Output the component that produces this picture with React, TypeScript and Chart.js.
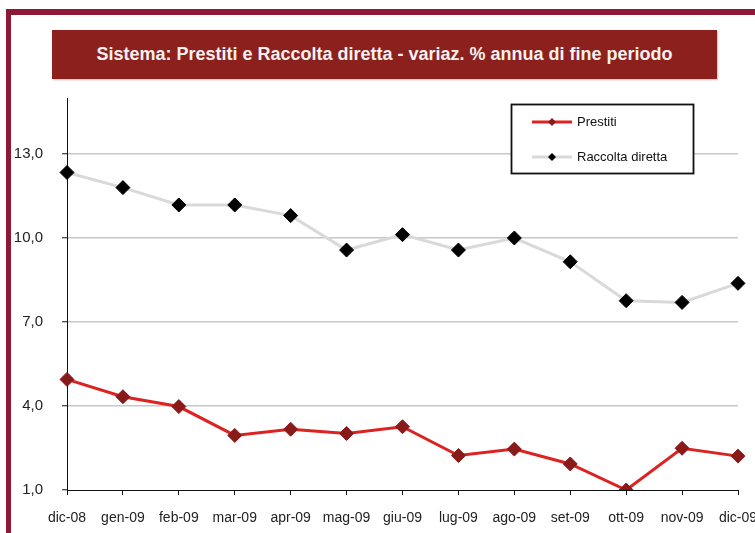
import React, { useEffect, useRef } from "react";
import { Chart, registerables } from "chart.js";

Chart.register(...registerables);

const categories = [
  "dic-08", "gen-09", "feb-09", "mar-09", "apr-09", "mag-09", "giu-09",
  "lug-09", "ago-09", "set-09", "ott-09", "nov-09", "dic-09",
];
const prestiti = [4.95, 4.33, 3.98, 2.95, 3.17, 3.02, 3.26, 2.23, 2.46, 1.93, 1.0, 2.49, 2.21];
const raccolta = [12.34, 11.8, 11.18, 11.18, 10.8, 9.57, 10.12, 9.57, 10.0, 9.15, 7.76, 7.7, 8.38];
const yTicks = [1, 4, 7, 10, 13];
const yMin = 1;
const yMax = 15;

const FONT = "'Liberation Sans', Arial, Helvetica, sans-serif";

const legendBoxPlugin = {
  id: "legendBox",
  afterDraw(chart: any) {
    const ctx = chart.ctx;
    const x = 511, y = 104, w = 182, h = 69;
    ctx.save();
    ctx.fillStyle = "#ffffff";
    ctx.fillRect(x, y, w, h);
    ctx.strokeStyle = "#111111";
    ctx.lineWidth = 1.8;
    ctx.strokeRect(x + 0.5, y + 0.5, w, h);
    const rows = [122, 157];
    chart.data.datasets.forEach((ds: any, i: number) => {
      const ry = rows[i];
      ctx.strokeStyle = ds.borderColor;
      ctx.lineWidth = 3;
      ctx.beginPath();
      ctx.moveTo(532, ry);
      ctx.lineTo(572, ry);
      ctx.stroke();
      ctx.fillStyle = ds.pointBackgroundColor;
      ctx.beginPath();
      const r = 4;
      ctx.moveTo(552 - r, ry);
      ctx.lineTo(552, ry - r);
      ctx.lineTo(552 + r, ry);
      ctx.lineTo(552, ry + r);
      ctx.closePath();
      ctx.fill();
      ctx.fillStyle = "#111111";
      ctx.font = `13px ${FONT}`;
      ctx.textBaseline = "middle";
      ctx.textAlign = "left";
      ctx.fillText(ds.label, 577, ry);
    });
    ctx.restore();
  },
};

export default function App() {
  const ref = useRef<HTMLCanvasElement | null>(null);

  useEffect(() => {
    if (!ref.current) return;
    const chart = new Chart(ref.current, {
      type: "line",
      data: {
        labels: categories,
        datasets: [
          {
            label: "Prestiti",
            data: prestiti,
            borderColor: "#dd2222",
            borderWidth: 3,
            pointStyle: "rectRot",
            pointRadius: 7,
            pointBackgroundColor: "#8a1a1a",
            pointBorderColor: "#8a1a1a",
            pointBorderWidth: 1,
            tension: 0,
            clip: { left: false, top: false, right: false, bottom: 0 } as any,
          },
          {
            label: "Raccolta diretta",
            data: raccolta,
            borderColor: "#d9d9d9",
            borderWidth: 3,
            pointStyle: "rectRot",
            pointRadius: 7,
            pointBackgroundColor: "#000000",
            pointBorderColor: "#000000",
            pointBorderWidth: 1,
            tension: 0,
            clip: { left: false, top: false, right: false, bottom: 0 } as any,
          },
        ],
      },
      options: {
        animation: false,
        responsive: false,
        maintainAspectRatio: false,
        layout: { padding: { top: 98, right: 52, bottom: 0, left: 0 } },
        plugins: {
          legend: { display: false },
          title: { display: false },
          tooltip: { enabled: false },
        },
        scales: {
          x: {
            offset: false,
            grid: {
              drawOnChartArea: false,
              drawTicks: true,
              tickLength: 5,
              tickColor: "#111111",
            },
            border: { color: "#111111", width: 1 },
            ticks: {
              color: "#222222",
              font: { family: FONT, size: 14 },
              padding: 15,
              maxRotation: 0,
              autoSkip: false,
            },
            afterFit(scale: any) {
              scale.height = 43;
            },
          },
          y: {
            min: yMin,
            max: yMax,
            afterBuildTicks(scale: any) {
              scale.ticks = yTicks.map((v) => ({ value: v }));
            },
            grid: {
              color: (c: any) => (c.tick && c.tick.value === yMin ? "rgba(0,0,0,0)" : "#c8c8c8"),
              lineWidth: 1.5,
              drawTicks: true,
              tickLength: 5,
              tickColor: "#111111",
              tickWidth: 1,
            },
            border: { color: "#111111", width: 1 },
            ticks: {
              color: "#222222",
              font: { family: FONT, size: 15 },
              padding: 19,
              callback: (v: any) => Number(v).toFixed(1).replace(".", ","),
            },
            afterFit(scale: any) {
              scale.width = 67;
            },
          },
        },
      },
      plugins: [legendBoxPlugin],
    });
    return () => chart.destroy();
  }, []);

  return (
    <div
      style={{
        position: "fixed",
        left: 0,
        top: 0,
        width: 755,
        height: 533,
        overflow: "hidden",
        background: "#ffffff",
      }}
    >
      <div
        style={{
          position: "absolute",
          left: 6,
          top: 9,
          width: 800,
          height: 600,
          borderTop: "6px solid #8c1a36",
          borderLeft: "5px solid #8c1a36",
        }}
      />
      <div
        style={{
          position: "absolute",
          left: 52,
          top: 30,
          width: 665,
          height: 49,
          background: "#8b201d",
          boxShadow: "1px 1px 2px rgba(0,0,0,0.25)",
          color: "#f6f0f0",
          fontFamily: FONT,
          fontWeight: "bold",
          fontSize: 18,
          display: "flex",
          alignItems: "center",
          justifyContent: "center",
          whiteSpace: "nowrap",
        }}
      >
        Sistema: Prestiti e Raccolta diretta - variaz. % annua di fine periodo
      </div>
      <canvas
        ref={ref}
        width={790}
        height={533}
        style={{ position: "absolute", left: 0, top: 0, width: 790, height: 533 }}
      />
    </div>
  );
}
